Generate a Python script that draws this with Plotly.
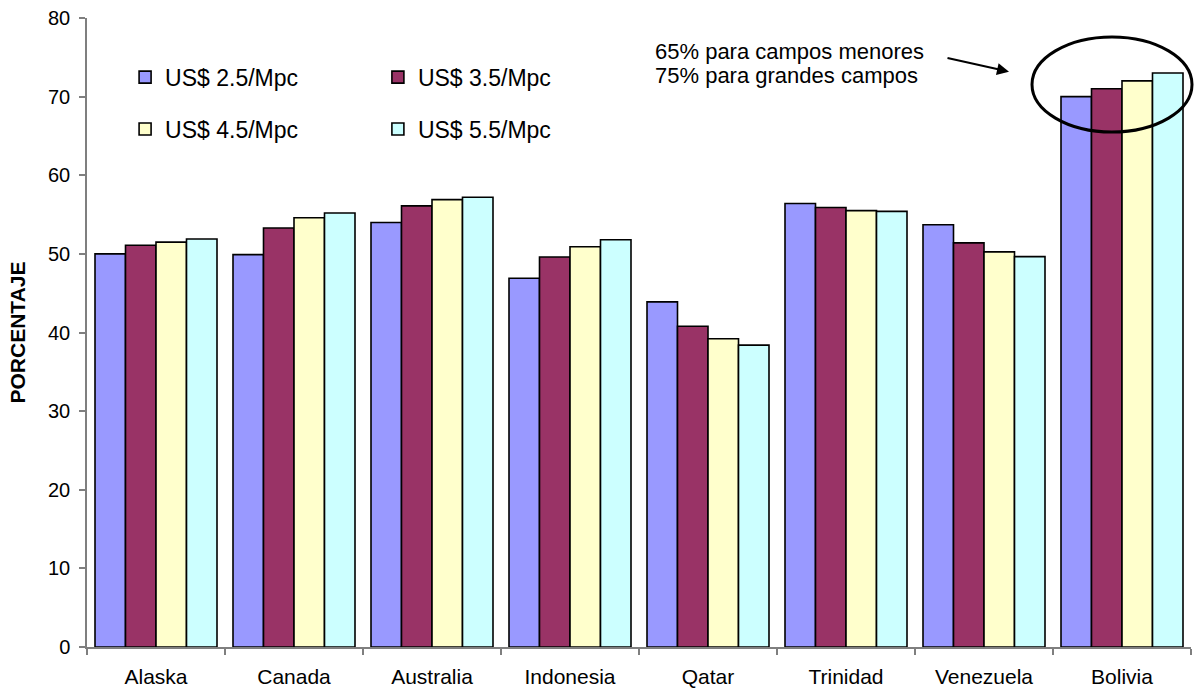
import plotly.graph_objects as go

# Countries on the x axis
paises = ["Alaska", "Canada", "Australia", "Indonesia", "Qatar",
          "Trinidad", "Venezuela", "Bolivia"]

# Government take (%) for each gas price scenario
precio_25 = [50.0, 49.9, 54.0, 46.9, 43.9, 56.4, 53.7, 70.0]
precio_35 = [51.1, 53.3, 56.1, 49.6, 40.8, 55.9, 51.4, 71.0]
precio_45 = [51.5, 54.6, 56.9, 50.9, 39.2, 55.5, 50.25, 72.0]
precio_55 = [51.9, 55.2, 57.2, 51.8, 38.4, 55.4, 49.65, 73.0]

series = [
    ("US$ 2.5/Mpc", precio_25, "#9999FF", "legend"),
    ("US$ 3.5/Mpc", precio_35, "#993366", "legend2"),
    ("US$ 4.5/Mpc", precio_45, "#FFFFCC", "legend3"),
    ("US$ 5.5/Mpc", precio_55, "#CCFFFF", "legend4"),
]

FONT = "Liberation Sans, Arial, sans-serif"

fig = go.Figure()
for nombre, valores, color, leg in series:
    fig.add_trace(go.Bar(
        x=paises, y=valores, name=nombre, legend=leg, showlegend=True,
        marker=dict(color=color, line=dict(color="black", width=1.6)),
    ))

# One legend box per entry, laid out as a 2x2 block inside the plot
leg_style = dict(bgcolor="rgba(0,0,0,0)", borderwidth=0,
                 font=dict(family=FONT, size=23, color="black"),
                 xanchor="left", yanchor="middle", itemwidth=30)
fig.update_layout(
    showlegend=True,
    legend=dict(x=0.0345, y=0.906, **leg_style),
    legend2=dict(x=0.2635, y=0.906, **leg_style),
    legend3=dict(x=0.0345, y=0.8235, **leg_style),
    legend4=dict(x=0.2635, y=0.8235, **leg_style),
)

fig.update_layout(
    width=1194, height=690,
    margin=dict(l=87, r=3, t=18, b=43, autoexpand=False),
    paper_bgcolor="white", plot_bgcolor="white",
    barmode="group", bargap=0.116, bargroupgap=0,
    font=dict(family=FONT, color="black"),
    xaxis=dict(
        type="category", tickson="boundaries",
        showline=True, linecolor="#7f7f7f", linewidth=1.5,
        ticks="outside", ticklen=6, tickcolor="#7f7f7f", tickwidth=1.5,
        tickfont=dict(family=FONT, size=21, color="black"),
        ticklabelstandoff=10, showgrid=False, zeroline=False,
    ),
    yaxis=dict(
        range=[0, 80], dtick=10, tick0=0,
        showline=True, linecolor="#7f7f7f", linewidth=1.5,
        ticks="outside", ticklen=6, tickcolor="#7f7f7f", tickwidth=1.5,
        tickfont=dict(family=FONT, size=20, color="black"),
        ticklabelstandoff=5, showgrid=False, zeroline=False,
        title=dict(text="PORCENTAJE", standoff=17,
                   font=dict(family=FONT, size=21, color="black",
                             weight="bold")),
    ),
)

# Note about Bolivia's fiscal terms
fig.add_annotation(xref="paper", yref="paper", x=(653 - 87) / 1104, y=(647 - 51) / 629,
                   text="65% para campos menores", showarrow=False,
                   xanchor="left", yanchor="middle",
                   font=dict(family=FONT, size=22, color="black"))
fig.add_annotation(xref="paper", yref="paper", x=(653 - 87) / 1104, y=(647 - 76) / 629,
                   text="75% para grandes campos", showarrow=False,
                   xanchor="left", yanchor="middle",
                   font=dict(family=FONT, size=22, color="black"))
# Arrow pointing to the Bolivia group
fig.add_annotation(xref="paper", yref="paper", x=(1009 - 87) / 1104, y=(647 - 71.7) / 629,
                   ax=-63, ay=-14, text="", showarrow=True,
                   arrowhead=2, arrowsize=1.2, arrowwidth=2, arrowcolor="black")
# Ellipse around the Bolivia bars
fig.add_shape(type="circle", xref="paper", yref="paper",
              x0=(1032 - 87) / 1104, x1=(1192 - 87) / 1104,
              y0=(647 - 132) / 629, y1=(647 - 37) / 629,
              line=dict(color="black", width=3), layer="above")

fig.write_html("out.html")
